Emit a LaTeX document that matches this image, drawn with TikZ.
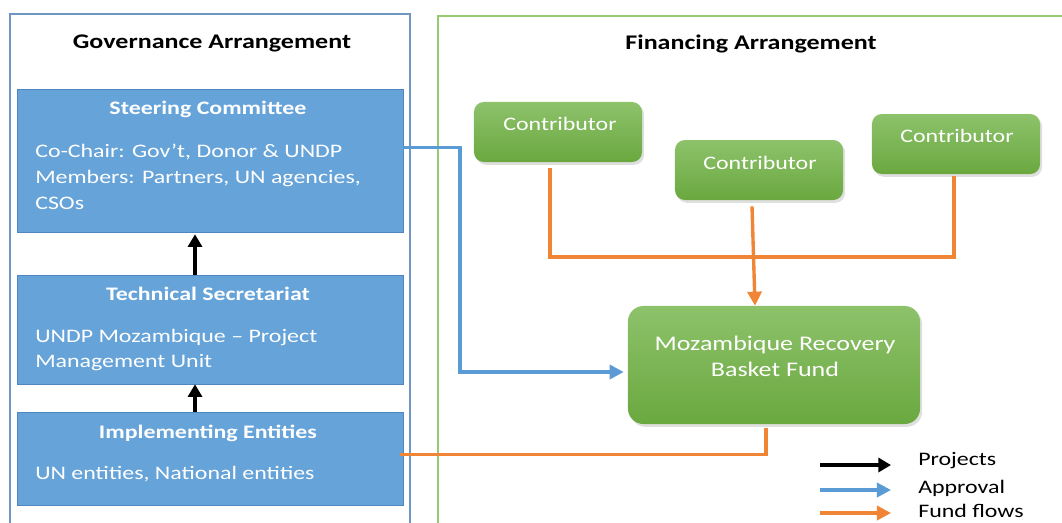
\documentclass[tikz,border=0pt]{standalone}
\usepackage{fontspec}
\setmainfont{Carlito}
\usetikzlibrary{arrows.meta,calc,shadows}

\definecolor{govblue}{HTML}{65A3D9}
\definecolor{govedge}{HTML}{4F86C0}
\definecolor{framegov}{HTML}{7096C2}
\definecolor{framefin}{HTML}{95CC72}
\definecolor{greentop}{HTML}{8DC26B}
\definecolor{greenbot}{HTML}{6AA83F}
\definecolor{approvalcol}{HTML}{5B9BD5}
\definecolor{fundcol}{HTML}{EF8535}

\newcommand{\headfont}{\fontsize{18.5}{24}\selectfont\bfseries}
\newcommand{\bodyfont}{\fontsize{17}{23}\selectfont}

\tikzset{
  squash/.style={transform shape,yscale=0.8,inner sep=0pt},
  govbox/.style={rectangle,draw=govedge,fill=govblue,minimum width=9.65cm},
  greenbox/.style={rectangle,rounded corners=7pt,top color=greentop,bottom color=greenbot,
    draw=none,drop shadow={opacity=0.25,shadow xshift=1.5pt,shadow yshift=-2pt}},
  project/.style={line width=2.2pt,-{Triangle[length=9pt,width=10pt]}},
  approval/.style={draw=approvalcol,line width=2.4pt,-{Triangle[length=10pt,width=10pt]}},
  fundflow/.style={draw=fundcol,line width=2.4pt},
  fundarrow/.style={fundflow,-{Triangle[length=10pt,width=10pt]}}
}

\begin{document}
\begin{tikzpicture}[x=0.025cm,y=-0.025cm]
	\useasboundingbox (0,0) rectangle (1062,522);

	% frames
	\draw[framegov,line width=1pt] (10,530) -- (10,14) -- (410,14) -- (410,530);
	\draw[framefin,line width=1.2pt] (438,530) -- (438,16) -- (1070,16);
	\node (govhead) at (212,43) [squash,font=\headfont] {Governance Arrangement};
	\node (finhead) at (751,44) [squash,font=\headfont] {Financing Arrangement};

	% governance
	\node (sc) at (210,160.5) [govbox,minimum height=3.575cm] {};
	\node (sc-title) at (208,109) [squash,font=\bodyfont\bfseries,text=white] {Steering Committee};
	\node (sc-text) at (35,177) [squash,anchor=west,align=left,font=\bodyfont,text=white]
		{Co-Chair: Gov’t, Donor \& UNDP\\Members: Partners, UN agencies,\\CSOs};

	\node (ts) at (210,329.5) [govbox,minimum height=2.725cm] {};
	\node (ts-title) at (208,294) [squash,font=\bodyfont\bfseries,text=white] {Technical Secretariat};
	\node (ts-text) at (35,350) [squash,anchor=west,align=left,font=\bodyfont,text=white]
		{UNDP Mozambique -- Project\\Management Unit};

	\node (ie) at (210,458.5) [govbox,minimum height=2.325cm] {};
	\node (ie-title) at (208,433) [squash,font=\bodyfont\bfseries,text=white] {Implementing Entities};
	\node (ie-text) at (35,474) [squash,anchor=west,font=\bodyfont,text=white] {UN entities, National entities};

	\draw[project] ($(ts.north)+(-15,0)$) -- ($(sc.south)+(-15,2)$);
	\draw[project] ($(ie.north)+(-15,0)$) -- ($(ts.south)+(-15,0)$);

	% financing
	\node (c1) at (558,132) [greenbox,minimum width=4.2cm,minimum height=1.5cm] {};
	\node (c2) at (759,170) [greenbox,minimum width=4.2cm,minimum height=1.5cm] {};
	\node (c3) at (956,144) [greenbox,minimum width=4.2cm,minimum height=1.5cm] {};
	\node (c1-t) at (560,124) [squash,font=\bodyfont,text=white] {Contributor};
	\node (c2-t) at (760,163) [squash,font=\bodyfont,text=white] {Contributor};
	\node (c3-t) at (957,136) [squash,font=\bodyfont,text=white] {Contributor};

	\node (fund) at (774,365) [greenbox,rounded corners=11pt,minimum width=7.3cm,minimum height=2.95cm] {};
	\node (fund-t) at (775,356) [squash,align=center,font=\fontsize{18.5}{23}\selectfont,text=white]
		{Mozambique Recovery\\Basket Fund};

	\coordinate (join) at (752,257);
	\draw[fundflow] ($(c1.south)+(-8,6)$) |- (join) -| ($(c3.south)+(-2,2)$);
	\draw[fundarrow] ($(c2.south)+(-7,6)$) -- ($(fund.north)+(-19,0)$);

	\coordinate (apbend) at (460,372);
	\draw[approval] ($(sc.east)+(0,-13)$) -| (apbend) -- ($(apbend -| fund.west)+(-4,0)$);
	\draw[fundflow] ($(fund.south)+(-8,4)$) |- ($(ie.east)+(-3,-4)$);

	% legend
	\coordinate (lg1a) at (820,465);
	\coordinate (lg1b) at (891,465);
	\coordinate (lg2a) at (820,490);
	\coordinate (lg2b) at (891,490);
	\coordinate (lg3a) at (820,513);
	\coordinate (lg3b) at (891,513);
	\draw[project] (lg1a) -- (lg1b);
	\draw[approval] (lg2a) -- (lg2b);
	\draw[fundarrow] (lg3a) -- (lg3b);
	\node (lg1) at (918,461) [squash,anchor=west,font=\bodyfont] {Projects};
	\node (lg2) at (918,488) [squash,anchor=west,font=\bodyfont] {Approval};
	\node (lg3) at (918,511) [squash,anchor=west,font=\bodyfont] {Fund flows};
\end{tikzpicture}
\end{document}
